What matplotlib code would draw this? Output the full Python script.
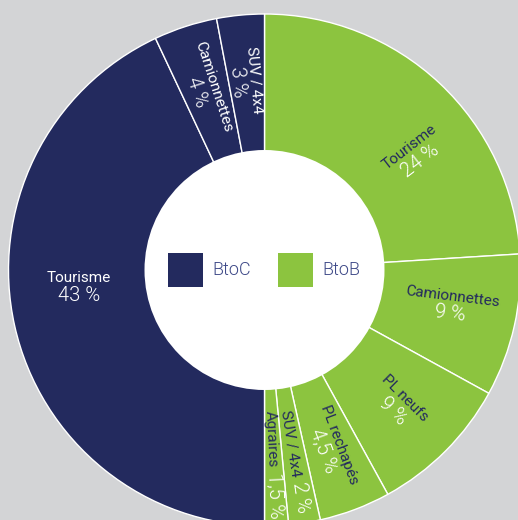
import numpy as np
import matplotlib
matplotlib.use("Agg")
import matplotlib.pyplot as plt
from matplotlib import patches

# data
btob_labels = ["Tourisme", "Camionnettes", "PL neufs", "PL rechapés", "SUV / 4x4", "Agraires"]
btob_values = [24, 9, 9, 4.5, 2, 1.5]
btoc_labels = ["Tourisme", "Camionnettes", "SUV / 4x4"]
btoc_values = [43, 4, 3]
group_names = ["BtoC", "BtoB"]

NAVY = "#232a5e"
GREEN = "#8cc43f"
BG = "#d3d4d6"
LEGEND_TXT = "#3f4a88"

plt.rcParams['font.family'] = ['Roboto', 'DejaVu Sans']

fig = plt.figure(figsize=(5.18, 5.2), dpi=100, facecolor=BG)
ax = fig.add_axes([0, 0, 1, 1])

# ring centre / radii in pixel units (ring is cut by the right and bottom edges)
cx, cy = 264.5, 250
r_out, r_in = 256, 120

values = btob_values + btoc_values
names = btob_labels + btoc_labels
colors = [GREEN] * len(btob_values) + [NAVY] * len(btoc_values)

wedges, _ = ax.pie(values, colors=colors, startangle=90, counterclock=False,
                   center=(cx, cy), radius=r_out,
                   wedgeprops=dict(edgecolor='white', linewidth=1))
ax.add_patch(patches.Circle((cx, cy), r_in, facecolor='white', edgecolor='none', zorder=3))

# label tweaks, by slice index: angle shift, radius, rotation, one line
tweaks = {
    0: dict(shift=-9),
    1: dict(shift=2, rot=-7),
    4: dict(one_line=True, r=212),
    5: dict(one_line=True, r=200),
    6: dict(shift=-7.6, r=186, rot=0),
}


def put_label(ang, r, name, pct, name_col, rot=None, one_line=False):
    a = np.deg2rad(ang)
    px, py = cx + r * np.cos(a), cy + r * np.sin(a)
    if rot is None:
        rot = ang if -90 <= ang <= 90 else ang - 180
    t = np.deg2rad(rot)
    along = np.array([np.cos(t), np.sin(t)])
    up = np.array([-np.sin(t), np.cos(t)])
    p = np.array([px, py])
    kw = dict(rotation=rot, rotation_mode='anchor', zorder=5)
    if one_line:
        base = p - 5 * up
        q = base - 2.5 * along
        ax.text(q[0], q[1], name, color=name_col, fontsize=11, ha='right', va='baseline', **kw)
        q = base + 2.5 * along
        ax.text(q[0], q[1], pct, color='white', fontsize=14.5, fontweight=300,
                ha='left', va='baseline', **kw)
    else:
        q = p + 8.5 * up
        ax.text(q[0], q[1], name, color=name_col, fontsize=11, ha='center', va='center', **kw)
        q = p - 9 * up
        ax.text(q[0], q[1], pct, color='white', fontsize=14.5, fontweight=300,
                ha='center', va='center', **kw)


for i, w in enumerate(wedges):
    tw = tweaks.get(i, {})
    mid = (w.theta1 + w.theta2) / 2 + tw.get('shift', 0)
    mid = (mid + 180) % 360 - 180
    pct = f"{values[i]:g} %".replace('.', ',')
    name_col = NAVY if colors[i] == GREEN else 'white'
    put_label(mid, tw.get('r', 190), names[i], pct, name_col,
              rot=tw.get('rot'), one_line=tw.get('one_line', False))

handles = [patches.Patch(facecolor=NAVY, label=group_names[0]),
           patches.Patch(facecolor=GREEN, label=group_names[1])]
leg = ax.legend(handles=handles, loc='center', bbox_to_anchor=(cx, cy),
                bbox_transform=ax.transData, ncol=2, frameon=False,
                prop=dict(size=13, weight=300), labelcolor=LEGEND_TXT,
                handlelength=1.9, handleheight=2.6, handletextpad=0.55,
                columnspacing=1.5, borderpad=0)
leg.set_zorder(6)

ax.set_xlim(0, 518)
ax.set_ylim(0, 520)
ax.set_aspect('equal')
ax.axis('off')

fig.savefig("out.png", dpi=100, facecolor=BG)
